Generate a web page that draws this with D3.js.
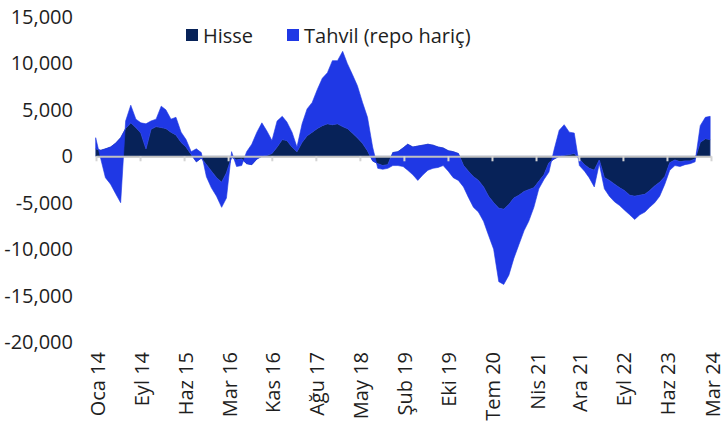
<!DOCTYPE html>
<html>
<head>
<meta charset="utf-8">
<script src="https://cdnjs.cloudflare.com/ajax/libs/d3/7.8.5/d3.min.js"></script>
<style>
  body { margin: 0; background: #ffffff; }
  .chart text { font-family: "Open Sans", "Noto Sans", sans-serif; fill: #1e1e1e; }
</style>
</head>
<body>
<div class="chart"></div>
<script>
// monthly values, Oca 14 .. Mar 24 (cumulative, mn USD)
var hisse = [
  800, 650, 800, 1000, 1400, 2000, 3000, 3600, 3100, 2500, 800, 2900,
  3200, 3100, 3000, 2600, 2300, 1500, 1000, 200, -600, -200, -900, -1600,
  -2300, -2800, -1800, -100, -400, -300, -800, -900, -300, 0, 100, 300,
  1000, 1800, 1700, 1000, 500, 1500, 2200, 2600, 3000, 3300, 3500, 3400,
  3500, 3200, 3000, 2500, 2000, 1400, 600, -500, -800, -1000, -900, 400,
  500, 900, 1300, 1000, 1100, 1200, 1300, 1200, 1000, 900, 600, 500,
  300, -1000, -1600, -2200, -2600, -3300, -4300, -5000, -5600, -5700, -5200, -4500,
  -4200, -3800, -3600, -3400, -2700, -2000, -700, -300, 0, 100, 200, 300,
  -300, -900, -1300, -1500, -400, -2300, -2600, -3000, -3400, -3700, -4200, -4300,
  -4200, -4100, -3700, -3200, -2800, -2200, -700, -400, -600, -500, -500, -300,
  1500, 1900, 1800
];

var tahvil = [
  1200, -950, -3100, -4000, -5400, -7000, 800, 1900, 900, 1100, 2700, 900,
  800, 2300, 2000, 1400, 1900, 1100, 800, 300, 1400, 600, -1300, -1800,
  -2000, -2700, -2700, 600, -700, -700, 1300, 2200, 2900, 3600, 2600, 1400,
  2800, 2500, 2000, 1600, 500, 2000, 2900, 3200, 4200, 5100, 5500, 6900,
  6800, 8100, 7000, 6300, 5600, 4400, 3600, 1500, -500, -400, -400, -1400,
  -1500, -2000, -2800, -3000, -3700, -3200, -2800, -2500, -2200, -1900, -2200, -2800,
  -2900, -2300, -2800, -3300, -3400, -3700, -4200, -5000, -7900, -8100, -7600, -6500,
  -5300, -4200, -3400, -2100, -800, -500, -1000, 1000, 2800, 3300, 2400, 2200,
  -700, -700, -1000, -1800, -400, -1200, -1700, -1900, -1900, -2100, -2100, -2500,
  -2100, -1900, -1800, -1800, -1500, -800, -800, -600, -500, -400, -300, -300,
  1800, 2300, 2500
];

var seriesNames = ["Hisse", "Tahvil (repo hariç)"];
var seriesColors = ["#072258", "#1f38e5"];

var tickLabels = ["Oca 14", "Eyl 14", "Haz 15", "Mar 16", "Kas 16", "Ağu 17", "May 18",
  "Şub 19", "Eki 19", "Tem 20", "Nis 21", "Ara 21", "Eyl 22", "Haz 23", "Mar 24"];
var tickDates = ["2014-01-03", "2014-09-26", "2015-06-19", "2016-03-11", "2016-11-30",
  "2017-08-23", "2018-05-16", "2019-02-06", "2019-10-30", "2020-07-22", "2021-04-14",
  "2021-12-29", "2022-09-21", "2023-06-14", "2024-03-06"];

var yTicks = [15000, 10000, 5000, 0, -5000, -10000, -15000, -20000];

function init() {
  var w = 725;
  var h = 432;
  var left = 96;
  var right = 711;
  var top = 17;
  var bottom = 342;

  var parse = d3.timeParse("%Y-%m-%d");
  var ticks = tickDates.map(parse);
  var months = d3.timeMonth.range(new Date(2014, 0, 1), new Date(2024, 3, 1));

  var data = months.map(function(d, i) {
    return { date: d, hisse: hisse[i], tahvil: tahvil[i] };
  });

  var xScale = d3.scaleTime()
    .domain([ticks[0], ticks[ticks.length - 1]])
    .range([left, right]);

  var yScale = d3.scaleLinear()
    .domain([-20000, 15000])
    .range([bottom, top]);

  var fmt = d3.formatLocale({ decimal: ".", thousands: ",", grouping: [3], currency: ["", ""], minus: "-" }).format(",");

  var svg = d3.select(".chart")
    .append("svg")
    .attr("width", w)
    .attr("height", h);

  // excel style stacked area: second series sits on the running total
  var stacked = d3.stack()
    .keys(["hisse", "tahvil"])
    .offset(d3.stackOffsetNone)(data);

  var area = d3.area()
    .x(function(d) { return xScale(d.data.date); })
    .y0(function(d) { return yScale(d[0]); })
    .y1(function(d) { return yScale(d[1]); });

  svg.selectAll("path.layer")
    .data(stacked)
    .enter()
    .append("path")
    .attr("class", "layer")
    .attr("d", area)
    .attr("fill", function(d, i) { return seriesColors[i]; })
    .attr("stroke", function(d, i) { return i === 0 ? "#3d56a8" : seriesColors[i]; })
    .attr("stroke-width", 0.6);

  // y labels, no axis line
  svg.selectAll("text.ylab")
    .data(yTicks)
    .enter()
    .append("text")
    .attr("class", "ylab")
    .attr("x", 73)
    .attr("y", function(d) { return yScale(d); })
    .attr("dy", "0.35em")
    .attr("text-anchor", "end")
    .style("font-size", "20px")
    .text(function(d) { return fmt(d); });

  // category axis on the zero line
  var xAxis = svg.append("g")
    .attr("transform", "translate(0," + yScale(0) + ")")
    .call(d3.axisBottom(xScale)
      .tickValues(ticks)
      .tickSize(5)
      .tickSizeOuter(0)
      .tickFormat(""));

  xAxis.select(".domain")
    .attr("stroke", "#c0c0c0")
    .attr("stroke-width", 2);

  xAxis.selectAll(".tick line")
    .attr("stroke", "#d4d4d4")
    .attr("stroke-width", 2);

  svg.selectAll("text.xlab")
    .data(ticks)
    .enter()
    .append("text")
    .attr("class", "xlab")
    .attr("transform", function(d) {
      return "translate(" + (xScale(d) + 2.5) + ",352) rotate(-90)";
    })
    .attr("dy", "0.3em")
    .attr("text-anchor", "end")
    .style("font-size", "20px")
    .text(function(d, i) { return tickLabels[i]; });

  // legend
  var legendX = [186, 287];
  var legend = svg.selectAll(".legend-item")
    .data(seriesNames)
    .enter()
    .append("g")
    .attr("class", "legend-item")
    .attr("transform", function(d, i) { return "translate(" + legendX[i] + ",29)"; });

  legend.append("rect")
    .attr("width", 12)
    .attr("height", 12)
    .attr("fill", function(d, i) { return seriesColors[i]; });

  legend.append("text")
    .attr("x", 17)
    .attr("y", 14)
    .style("font-size", "20px")
    .text(function(d) { return d; });
}

window.onload = init;
</script>
</body>
</html>
